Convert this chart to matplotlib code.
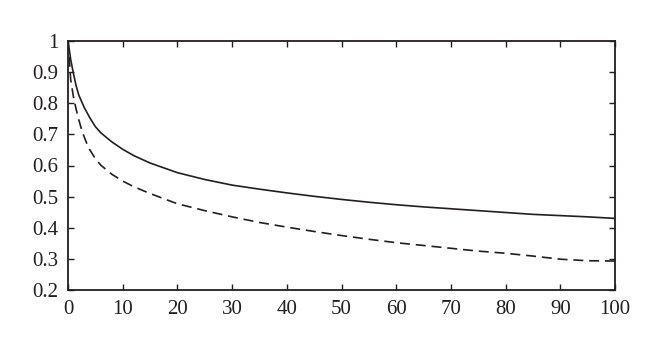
import matplotlib
matplotlib.use("Agg")
import matplotlib.pyplot as plt

x_solid = [0, 0.5, 1, 1.5, 2, 3, 4, 5, 6, 8, 10, 12, 15, 20, 25, 30, 35, 40, 45,
           50, 55, 60, 65, 70, 75, 80, 85, 90, 95, 100]
y_solid = [1.0, 0.94, 0.895, 0.855, 0.825, 0.785, 0.753, 0.725, 0.705, 0.676,
           0.652, 0.632, 0.608, 0.577, 0.555, 0.537, 0.524, 0.512, 0.501, 0.491,
           0.482, 0.474, 0.467, 0.461, 0.455, 0.449, 0.443, 0.439, 0.435, 0.43]

x_dash = [0, 0.5, 1, 1.5, 2, 2.5, 3, 3.5, 4, 5, 6, 8, 10, 12, 15, 20, 25, 30, 35,
          40, 45, 50, 55, 60, 65, 70, 75, 80, 85, 90, 95, 100]
y_dash = [1.0, 0.875, 0.82, 0.78, 0.745, 0.715, 0.69, 0.668, 0.65, 0.622, 0.601,
          0.572, 0.55, 0.532, 0.51, 0.477, 0.455, 0.435, 0.417, 0.402, 0.388,
          0.375, 0.363, 0.352, 0.343, 0.334, 0.325, 0.318, 0.309, 0.299, 0.294,
          0.293]

x_ticks = [0, 10, 20, 30, 40, 50, 60, 70, 80, 90, 100]
y_ticks = [0.2, 0.3, 0.4, 0.5, 0.6, 0.7, 0.8, 0.9, 1.0]
y_labels = ["0.2", "0.3", "0.4", "0.5", "0.6", "0.7", "0.8", "0.9", "1"]

c = "#231f20"
plt.rcParams["font.family"] = ["Liberation Serif", "DejaVu Serif"]

fig = plt.figure(figsize=(6.6, 3.47), dpi=100)
ax = fig.add_axes([68/660, 57/347, (615-68)/660, (290-41)/347])
ax.plot(x_solid, y_solid, color=c, lw=1.2)
ax.plot(x_dash, y_dash, color=c, lw=1.2, dashes=(6, 3.5))
ax.set_xlim(0, 100)
ax.set_ylim(0.2, 1.0)
ax.set_xticks(x_ticks)
ax.set_yticks(y_ticks)
ax.set_yticklabels(y_labels)
ax.tick_params(direction="in", length=4, width=1.0, colors=c, labelsize=15,
               top=True, right=True, pad=7)
for s in ax.spines.values():
    s.set_linewidth(1.3)
    s.set_color(c)
fig.savefig("out.png", dpi=100)
